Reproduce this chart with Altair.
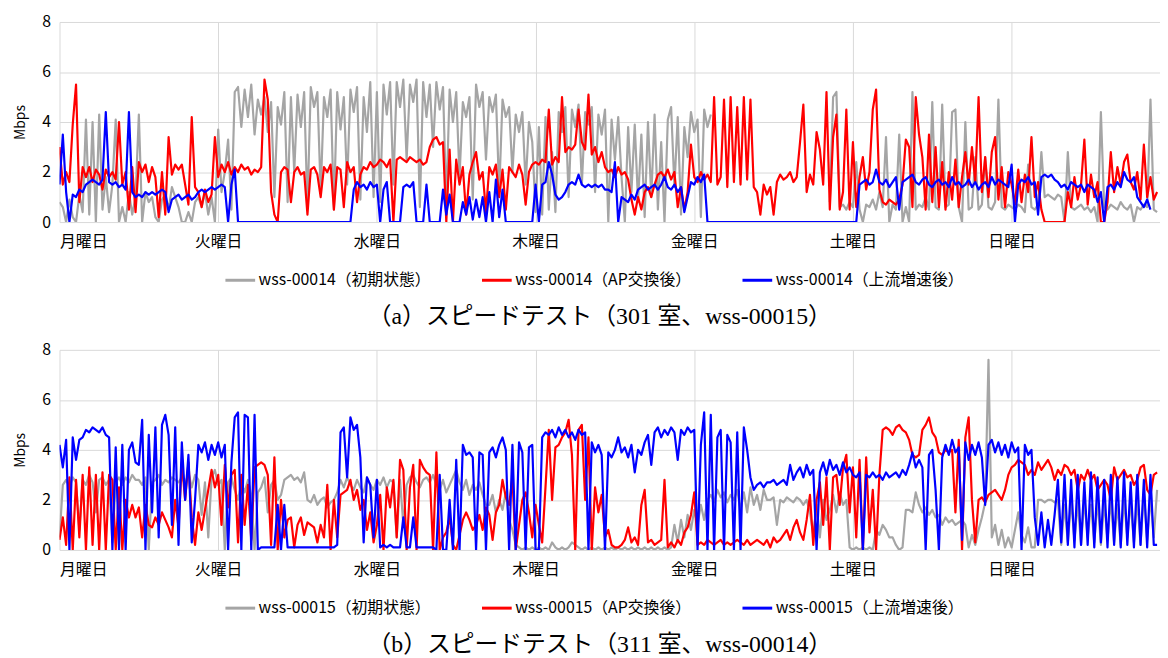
import json
import altair as alt
import pandas as pd

DAYS = ["月曜日", "火曜日", "水曜日", "木曜日", "金曜日", "土曜日", "日曜日"]
SAMPLES_PER_DAY = 48
X_END = 6.935

NAMES_A = ["wss-00014（初期状態）", "wss-00014（AP交換後）", "wss-00014（上流増速後）"]
NAMES_B = ["wss-00015（初期状態）", "wss-00015（AP交換後）", "wss-00015（上流増速後）"]
COLORS = ["#A5A5A5", "#FF0000", "#0000FF"]
CAPTION_A = "（a）スピードテスト（301 室、wss-00015）"
CAPTION_B = "（b）スピードテスト（311 室、wss-00014）"
Y_TICKS = [0, 2, 4, 6, 8]

# ---- panel (a) : one value per 30 minutes, Monday 00:00 onward ----
a_gray = [
    0.8,0.6,0.0,0.9,0.2,0.0,1.1,0.4,4.1,0.3, 4.0,0.0,4.3,0.5,1.8,0.4,1.5,4.1,0.0,0.6,
    0.0,1.2,0.3,1.0,4.3,0.0,1.2,0.8,1.0,0.2, 0.0,0.9,1.1,0.5,1.4,1.0,0.6,0.0,0.0,0.4,
    0.0,0.8,1.0,0.6,1.2,0.3,1.0,0.0,
    3.7,1.2,2.0,3.3,0.5,5.2,5.4,3.8,5.3,4.2, 5.5,3.5,4.9,4.3,5.0,3.6,4.8,1.0,4.6,3.9,
    5.2,0.8,5.0,2.0,5.1,3.8,5.2,0.6,5.4,4.6, 5.2,1.2,5.0,4.2,5.3,0.5,5.2,3.7,5.0,1.5,
    5.3,4.4,5.4,0.9,5.0,3.6,5.6,1.0,
    5.2,0.8,5.5,4.3,5.6,1.5,5.6,4.6,5.7,2.5, 5.5,4.8,5.7,0.6,5.6,4.2,5.5,3.0,5.6,4.5,
    5.4,0.7,5.3,4.0,5.2,1.8,4.8,4.2,5.0,0.9, 5.5,4.6,5.2,2.5,5.0,4.4,5.1,1.2,4.9,4.2,
    4.6,2.0,4.3,3.6,4.4,1.5,4.0,3.2,
    0.4,3.8,0.3,4.2,0.5,2.8,0.4,4.4,3.6,4.6, 1.0,4.5,3.8,4.7,1.5,4.4,3.9,4.6,1.2,4.3,
    3.5,4.5,0.0,4.1,2.5,4.2,1.8,0.0,3.8,1.2, 3.9,0.8,3.5,0.2,4.0,1.0,4.3,0.5,3.2,0.0,
    4.1,4.6,1.4,4.2,0.3,3.8,2.6,4.4,
    3.6,4.1,0.2,4.5,3.8,4.3,None,None,None,None, None,None,None,None,None,None,None,None,None,None,
    None,None,None,None,None,None,None,None,None,None, None,None,None,None,None,None,None,None,None,None,
    None,0.8,5.0,5.2,0.6,0.7,0.5,0.8,
    0.6,2.4,0.5,0.0,0.7,0.6,0.9,0.5,1.2,0.6, 3.4,0.0,0.7,0.5,3.5,0.0,0.6,0.0,5.2,0.5,
    0.7,0.6,1.0,0.5,4.8,0.6,0.5,4.7,0.6,0.7, 4.4,4.5,0.6,0.0,4.0,0.5,0.6,2.6,0.5,0.7,
    2.6,0.6,0.5,0.8,4.9,0.6,0.5,0.7,
    0.6,0.5,0.7,0.6,0.4,2.3,0.6,0.5,0.7,2.8, 1.0,1.1,1.0,0.9,1.1,1.0,0.0,2.8,0.6,0.5,
    0.6,0.7,0.5,0.6,0.4,0.6,0.0,4.4,0.6,0.5, 0.7,0.6,0.5,0.8,0.6,0.5,0.7,0.0,0.6,0.5,
    0.7,0.6,4.9,0.5,0.4,
]
a_red = [
    3.0,1.5,2.0,1.6,3.9,5.5,0.8,2.2,1.8,2.2, 1.6,2.1,1.9,1.3,2.1,1.8,2.0,1.7,4.0,1.5,
    2.0,0.5,2.2,0.4,2.4,2.0,2.3,1.6,2.2,1.8, 0.2,2.0,0.3,3.4,1.9,2.3,2.1,2.3,1.5,0.7,
    4.2,1.4,1.2,0.6,1.3,0.8,1.1,3.4,
    1.8,2.3,2.0,2.4,1.9,2.2,2.0,2.3,2.1,2.2, 1.9,2.1,2.0,2.2,5.7,4.9,1.2,0.3,0.0,2.0,
    2.2,2.1,0.8,2.0,2.2,1.9,2.0,0.3,2.1,2.2, 1.9,1.0,2.2,2.0,2.3,0.5,2.2,2.1,0.6,2.4,
    2.0,2.2,0.8,1.9,2.2,2.1,2.4,2.2,
    2.3,2.5,2.4,2.2,2.5,0.0,2.5,2.6,2.5,2.4, 2.6,2.5,2.4,2.5,2.3,2.4,3.0,3.3,3.4,3.1,
    3.2,0.0,2.9,0.0,2.5,1.5,2.2,0.3,1.9,2.4, 2.8,1.7,2.0,0.4,2.2,1.9,2.3,1.0,2.1,0.5,
    2.2,2.0,1.8,2.3,1.9,0.7,2.0,2.3,
    2.4,2.3,2.5,2.4,4.5,2.3,2.6,2.4,5.0,2.8, 3.0,2.9,3.1,4.5,3.2,2.9,5.1,2.7,3.0,2.4,
    2.8,2.2,2.0,2.1,1.8,2.2,1.9,2.0,1.7,0.9, 0.3,1.0,0.5,1.2,1.4,1.0,1.5,1.9,2.0,1.8,
    2.1,1.7,2.0,0.6,1.4,0.5,1.2,3.1,
    1.8,1.6,2.0,1.7,1.9,1.6,5.0,1.5,1.8,4.9, 1.4,5.0,1.6,4.6,1.5,5.0,1.7,4.9,1.4,1.2,
    0.3,1.5,1.1,1.4,0.3,1.6,1.9,1.7,1.8,2.0, 1.6,1.8,3.2,4.7,1.2,1.9,1.5,3.6,2.9,1.5,
    5.2,0.5,3.4,4.3,0.5,1.2,4.5,0.5,
    3.2,0.6,1.8,2.6,1.3,2.0,4.5,5.3,1.3,0.8, 0.7,0.9,0.8,0.7,0.9,1.5,3.3,3.0,0.6,5.0,
    3.5,2.6,0.5,3.5,0.8,3.0,0.6,2.4,0.5,2.0, 0.9,2.5,0.6,1.8,2.8,1.5,3.0,1.6,5.0,1.2,
    2.6,1.0,2.8,3.4,0.9,2.2,0.6,2.0,
    1.5,0.7,2.1,0.8,1.9,1.2,3.4,1.0,1.6,0.5, 0.0,0.0,0.0,0.0,0.0,0.0,0.0,1.2,0.6,1.8,
    0.9,1.5,3.3,0.7,1.9,1.0,1.6,0.0,0.0,0.8, 2.8,1.2,2.2,1.5,2.4,2.7,1.6,1.3,2.0,0.9,
    3.1,1.0,1.8,0.9,1.2,
]
a_blue = [
    1.5,3.5,1.2,0.0,1.1,1.0,1.3,1.2,1.5,1.6, 1.7,1.6,1.5,1.7,4.4,1.6,1.5,1.6,1.4,1.5,
    1.3,4.4,1.2,1.0,1.1,1.0,1.2,1.1,1.2,1.1, 1.2,1.3,1.2,0.4,0.9,1.0,1.1,0.9,1.0,1.1,
    0.9,1.0,1.2,1.3,1.2,1.3,1.4,1.3,
    1.4,1.5,1.4,0.0,1.5,2.1,0.0,0.0,0.0,0.0, 0.0,0.0,0.0,0.0,0.0,0.0,0.0,0.0,0.0,0.0,
    0.0,0.0,0.0,0.0,0.0,0.0,0.0,0.0,0.0,0.0, 0.0,0.0,0.0,0.0,0.0,0.0,0.0,0.0,0.0,0.0,
    0.0,1.3,1.6,1.4,1.5,1.3,
    1.6,1.4,1.5,0.0,1.3,1.6,0.0,0.0,0.0,0.0, 1.4,1.5,1.4,1.6,0.0,0.0,0.0,1.5,0.0,0.0,
    0.0,0.0,1.3,0.3,1.1,0.0,0.0,0.0,0.8,0.3, 1.0,0.1,0.9,0.2,1.0,0.0,1.2,0.0,1.7,0.2,
    1.3,0.0,0.0,0.0,0.0,0.0,0.0,0.0,
    0.0,0.0,1.5,0.0,1.5,1.6,2.4,1.9,1.1,0.9, 1.0,1.2,1.5,1.6,1.5,1.9,1.5,1.4,1.5,1.4,
    1.5,1.4,1.5,1.3,1.3,1.2,2.4,0.0,1.0,0.9, 0.8,1.1,0.9,1.3,1.4,1.5,1.3,1.4,1.5,1.3,
    1.5,1.8,1.4,1.3,1.5,1.2,1.4,0.4,
    1.0,1.6,1.5,1.8,1.6,1.9,0.0,0.0,0.0,0.0, 0.0,0.0,0.0,0.0,0.0,0.0,0.0,0.0,0.0,0.0,
    0.0,0.0,0.0,0.0,0.0,0.0,0.0,0.0,0.0,0.0, 0.0,0.0,0.0,0.0,0.0,0.0,0.0,0.0,0.0,0.0,
    0.0,0.0,0.0,0.0,0.0,0.0,0.0,0.0,
    0.0,0.0,0.0,0.0,1.5,1.6,1.7,1.5,1.6,2.1, 1.6,1.5,1.7,1.4,1.6,1.8,0.5,1.6,1.7,1.8,
    1.9,1.6,1.5,1.7,1.8,1.5,1.4,1.6,1.7,1.5, 1.6,1.4,1.8,1.5,1.6,1.4,1.5,1.7,1.4,1.6,
    1.3,1.5,1.6,1.4,1.8,1.5,1.7,1.6,
    1.5,1.4,2.3,0.0,1.5,1.7,1.6,1.8,1.5,1.6, 0.3,1.8,1.9,1.8,1.9,1.7,1.6,1.4,1.5,1.3,
    1.6,1.5,1.4,1.5,1.2,1.5,1.4,1.3,0.8,1.2, 0.0,1.4,1.5,1.3,1.6,1.4,2.0,1.7,1.6,1.8,
    1.0,0.8,0.6,0.9,0.5,
]

# ---- panel (b) ----
b_gray = [
    0.5,2.6,2.8,2.5,2.9,2.7,0.8,2.8,2.6,3.0, 2.7,1.5,2.8,2.9,2.6,2.8,0.3,2.7,2.9,2.6,
    2.9,2.7,3.0,2.8,2.8,2.6,2.9,0.0,2.7,2.8, 3.0,2.6,2.8,2.7,2.9,2.8,2.7,2.9,2.6,3.1,
    2.5,3.0,2.8,1.4,2.7,0.5,2.9,3.2,
    2.6,2.8,0.0,2.7,2.9,2.4,2.0,2.7,2.3,2.8, 2.2,0.0,2.3,2.5,2.9,1.5,2.6,2.8,2.0,2.2,
    2.8,2.9,3.0,2.8,2.9,2.7,3.1,2.0,1.9,2.2, 1.8,2.0,2.1,1.7,1.9,2.0,2.3,2.8,2.5,2.9,
    2.6,2.4,2.8,2.5,2.3,2.9,2.6,2.4,
    2.8,2.6,2.9,2.5,2.8,2.7,0.5,2.8,1.0,2.6, 2.9,3.0,2.7,2.5,2.8,2.9,2.7,3.0,2.6,2.4,
    2.8,2.3,2.6,2.9,3.2,2.7,2.4,2.8,2.2,2.6, 2.4,2.7,2.2,1.8,1.8,2.2,1.5,2.0,1.6,2.3,
    1.2,0.8,0.2,0.1,0.0,0.1,0.0,0.1,
    0.0,0.1,0.0,0.1,0.0,0.3,0.1,0.0,0.1,0.0, 0.1,0.3,0.2,0.1,0.0,0.1,0.0,0.1,0.0,0.1,
    0.0,0.1,0.0,0.1,0.0,0.1,0.0,0.1,0.0,0.1, 0.0,0.1,0.0,0.1,0.0,0.1,0.0,0.1,0.0,0.1,
    0.0,0.1,1.0,0.3,1.2,0.5,1.4,0.8,
    1.6,1.0,1.8,1.2,2.0,2.2,1.9,2.4,2.1,2.3, 1.9,2.2,2.0,2.4,1.6,2.3,1.5,2.5,1.8,2.2,
    1.6,2.4,2.0,2.0,2.1,1.0,2.0,1.9,2.1,2.0, 1.9,2.1,2.0,1.8,2.0,1.5,0.6,1.8,0.5,2.0,
    1.2,1.6,2.2,1.5,2.3,1.8,2.0,0.1,
    0.0,0.1,0.0,0.1,0.0,0.1,0.0,0.8,0.6,1.0, 0.8,0.5,0.5,0.2,0.0,0.1,1.6,1.6,1.5,2.3,
    1.8,1.5,1.7,1.4,1.6,1.3,1.4,1.0,1.3,1.1, 1.2,1.0,1.1,1.2,1.0,0.1,0.6,0.2,0.8,1.3,
    1.9,7.6,0.5,1.0,0.2,0.8,0.1,0.5,
    0.1,0.8,1.5,0.6,0.3,0.9,0.1,0.1,2.0,2.0, 1.9,2.0,2.0,1.9,2.0,0.2,1.8,0.3,2.0,0.4,
    1.9,0.2,2.0,0.5,1.8,0.3,2.0,0.2,1.9,0.4, 2.0,0.3,1.8,0.2,2.0,0.5,1.9,0.3,2.0,0.2,
    2.3,0.4,2.1,0.5,2.4,
]
b_red = [
    0.4,1.3,0.2,2.9,0.0,2.8,0.5,3.0,0.0,3.3, 0.2,3.0,0.0,3.1,0.0,3.0,2.8,0.0,2.5,0.0,
    2.0,1.3,1.8,1.3,1.7,0.5,1.8,1.0,0.9,1.3, 1.0,1.5,1.2,0.9,0.5,2.0,0.9,3.5,2.0,3.5,
    1.3,0.2,1.5,0.8,1.6,2.4,3.2,2.5,
    3.0,1.0,3.4,1.7,3.0,3.2,0.3,3.0,1.0,2.6, 0.4,3.3,3.4,3.5,3.4,3.0,0.2,3.7,0.0,2.0,
    0.5,1.2,1.3,0.1,1.0,1.3,0.6,1.1,1.0,0.9, 0.3,1.0,0.5,2.6,0.0,2.0,0.5,2.2,2.3,2.4,
    2.8,2.0,2.4,1.6,2.0,0.8,1.5,0.3,
    1.0,2.2,0.0,2.5,1.7,2.8,0.5,3.6,3.2,0.0, 2.5,3.4,0.0,3.6,3.3,3.1,3.0,0.0,3.9,0.0,
    0.5,0.7,1.3,0.2,0.0,0.6,1.2,1.5,1.2,0.8, 1.0,1.4,0.8,1.7,1.4,0.4,1.5,1.8,2.8,2.1,
    1.8,2.9,0.0,1.0,2.0,2.3,1.5,0.5,
    1.8,1.0,0.3,2.5,4.8,2.0,4.1,4.2,4.5,4.7, 5.2,3.8,0.0,4.8,5.0,2.0,4.5,0.0,2.5,1.5,
    2.2,0.5,0.8,0.2,0.1,0.1,0.2,0.4,0.9,0.3, 0.5,0.2,1.8,2.4,0.3,0.4,0.2,0.3,0.4,2.8,
    0.1,0.3,0.1,0.4,0.2,0.7,0.9,1.4,
    2.3,0.2,0.3,0.2,0.4,0.3,0.2,0.3,0.4,0.2, 0.3,0.2,0.3,0.4,0.3,0.2,0.4,0.2,0.3,0.4,
    0.3,0.2,0.4,0.1,0.5,0.3,0.4,0.6,0.8,0.4, 0.9,1.2,0.7,0.4,1.2,2.2,0.2,2.0,2.7,1.0,
    2.9,0.0,2.9,3.0,1.8,3.3,3.8,1.5,
    3.3,0.5,3.6,0.0,3.7,0.7,2.4,0.0,3.0,4.8, 4.9,4.8,4.6,4.9,5.0,4.8,4.7,4.4,3.8,3.7,
    3.8,4.8,5.0,5.3,4.7,4.5,3.9,3.8,4.0,3.9, 4.0,1.5,4.4,0.0,4.5,5.3,2.0,0.3,2.0,2.1,
    1.9,2.2,2.3,2.4,2.2,2.0,2.4,3.0,
    3.3,3.4,3.6,3.5,3.4,3.0,3.2,3.0,3.5,3.2, 3.4,3.6,3.3,2.8,3.2,3.0,3.4,3.3,3.0,3.2,
    2.4,3.0,2.8,3.2,2.8,3.0,2.4,2.6,2.8,2.6, 2.0,3.3,2.8,3.0,3.2,2.9,3.0,2.6,2.8,3.3,
    3.4,2.4,2.2,3.0,3.1,
]
b_blue = [
    4.2,3.3,4.4,0.0,4.5,3.6,4.4,4.5,4.8,4.7, 4.9,4.8,4.7,4.9,4.6,4.5,0.0,4.1,0.0,4.2,
    0.0,4.0,4.3,3.5,3.4,5.2,0.0,4.6,1.5,4.9, 0.5,5.0,5.4,4.6,1.0,4.9,0.2,4.3,2.0,3.8,
    0.3,2.0,4.2,3.9,4.3,3.6,4.2,3.8,
    4.3,3.7,4.2,0.0,3.5,5.3,5.5,0.0,5.4,5.3, 0.0,5.4,0.0,0.1,0.1,0.1,0.1,0.1,1.8,0.0,
    1.8,0.1,0.1,0.1,0.1,0.1,0.1,0.1,0.1,0.1, 0.1,0.1,0.1,0.1,0.1,0.1,0.2,4.7,4.9,2.9,
    5.3,4.8,5.0,3.7,0.3,2.9,2.6,0.5,
    2.8,0.1,0.2,0.1,0.2,0.1,0.1,0.1,1.3,0.1, 0.1,1.3,0.1,0.1,0.1,0.1,0.1,0.1,0.0,3.0,
    0.0,0.0,2.0,0.0,3.6,0.0,4.2,3.8,3.9,3.7, 0.0,3.9,3.8,0.0,3.9,4.1,3.7,4.2,4.5,4.0,
    0.0,4.2,0.0,4.3,3.9,0.0,4.1,4.2,
    0.0,0.0,4.5,4.7,4.6,4.8,4.5,4.9,4.6,4.8, 4.5,4.7,4.4,4.8,4.6,4.7,0.0,4.3,3.9,4.2,
    3.8,0.0,3.9,3.7,4.0,4.5,3.9,4.1,3.7,4.2, 3.1,4.0,3.8,4.3,4.6,3.4,4.7,4.9,4.5,4.8,
    4.6,4.9,4.7,3.6,4.8,4.6,4.9,4.7,
    4.8,0.0,4.2,5.5,0.0,5.4,0.0,4.5,4.8,0.0, 4.6,4.3,0.0,4.7,0.0,4.9,4.0,2.9,2.4,2.6,
    2.7,2.5,2.7,2.7,2.8,2.6,2.7,2.8,2.6,3.4, 2.8,3.1,3.3,2.9,3.4,3.0,3.2,0.0,3.1,3.5,
    3.0,3.6,3.2,3.4,3.0,3.5,3.1,3.3,
    3.0,2.9,3.1,0.0,3.0,2.9,3.1,2.9,3.0,2.8, 3.1,2.9,3.0,3.1,2.9,3.2,3.0,3.4,3.9,3.3,
    3.6,3.3,0.0,3.8,4.0,2.4,0.0,3.7,4.2,3.8, 4.4,3.9,4.1,0.4,4.3,3.6,4.2,3.8,4.3,3.7,
    1.8,4.2,4.4,3.9,4.3,3.8,4.2,3.7,
    4.3,3.9,4.1,0.0,4.2,3.8,4.0,1.3,0.2,1.5, 0.1,1.2,0.2,1.4,2.8,0.3,3.0,0.2,2.8,0.1,
    3.0,0.2,2.7,0.2,3.1,0.1,2.9,0.3,2.8,0.1, 3.0,0.2,2.9,0.1,3.1,0.2,2.7,0.1,3.0,0.2,
    2.8,0.1,3.0,0.2,0.2,
]

SANS = "Noto Sans CJK JP"
SERIF = "Liberation Serif, Noto Sans CJK JP"
LABEL_EXPR = json.dumps(DAYS, ensure_ascii=False) + "[datum.value]"


def long_table(names, series):
    rows = []
    for name, vals in zip(names, series):
        seg = 0
        gap = False
        for i, v in enumerate(vals):
            if v is None:
                gap = True
                continue
            if gap:
                seg += 1
                gap = False
            rows.append({"t": i / SAMPLES_PER_DAY, "v": v, "s": name, "seg": f"{name}#{seg}"})
    return pd.DataFrame(rows)


def panel(names, series, caption):
    df = long_table(names, series)
    return alt.Chart(df).mark_line(strokeWidth=2.2, clip=True, strokeJoin="round").encode(
        x=alt.X("t:Q",
                scale=alt.Scale(domain=[0, X_END], nice=False, zero=False),
                axis=alt.Axis(values=list(range(7)), labelExpr=LABEL_EXPR, title=None,
                              grid=True, ticks=False, domain=False, labelFlush=True,
                              labelPadding=12, labelFontSize=16, labelFont=SANS,
                              labelColor="#000")),
        y=alt.Y("v:Q",
                scale=alt.Scale(domain=[0, 8], nice=False),
                axis=alt.Axis(values=Y_TICKS, title="Mbps", titleFont=SANS, titleFontSize=14,
                              titleFontWeight="normal", titleColor="#000", titlePadding=14,
                              labelFontSize=16, labelFont=SANS, labelColor="#000",
                              labelPadding=9, ticks=False, domain=False, grid=True)),
        color=alt.Color("s:N",
                        scale=alt.Scale(domain=names, range=COLORS),
                        legend=alt.Legend(orient="none", legendX=166, legendY=244,
                                          direction="horizontal", title=None,
                                          symbolType="stroke", symbolSize=900,
                                          symbolStrokeWidth=3, labelFont=SANS,
                                          labelFontSize=16, labelColor="#000",
                                          labelOffset=2, columnPadding=45, padding=0,
                                          labelLimit=400)),
        detail="seg:N",
    ).properties(
        width=1111, height=202,
        title=alt.TitleParams(caption, orient="bottom", font=SERIF, fontSize=24,
                              fontWeight="normal", color="#000", offset=17, dx=-10),
    )


pa = panel(NAMES_A, [a_gray, a_red, a_blue], CAPTION_A)
pb = panel(NAMES_B, [b_gray, b_red, b_blue], CAPTION_B)

chart = (
    alt.vconcat(pa, pb, spacing=13)
    .resolve_scale(color="independent")
    .resolve_legend(color="independent")
    .properties(padding={"left": 6, "top": 3, "right": 0, "bottom": 0})
    .configure_view(stroke=None)
    .configure_axis(gridColor="#D9D9D9", gridWidth=1)
)

chart.save("out.html", embed_options={"renderer": "svg", "actions": False})
